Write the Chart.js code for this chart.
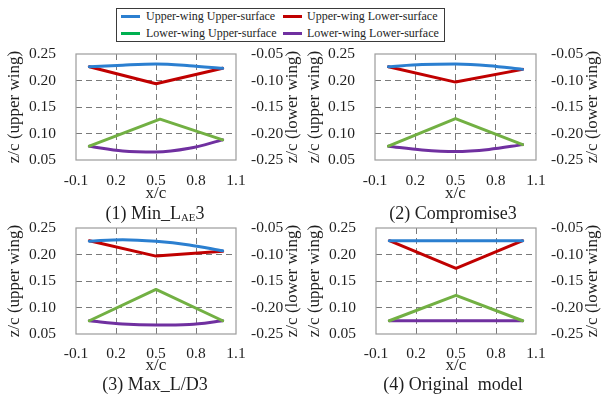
<!DOCTYPE html>
<html>
<head>
<meta charset="utf-8">
<script src="https://cdn.jsdelivr.net/npm/chart.js@4.4.0/dist/chart.umd.min.js"></script>
<style>
  html, body { margin:0; padding:0; background:#fff; }
  #wrap { position:relative; width:603px; height:396px; overflow:hidden; font-family:'Liberation Serif','Times New Roman',serif; color:#1e1e1e; }
  canvas { position:absolute; }
  .legend-box { position:absolute; left:116px; top:8px; width:327px; height:32px; border:1.5px solid #3a3a3a; }
  .lg-line { position:absolute; height:3px; }
  .lg-text { position:absolute; font-size:12px; line-height:14px; white-space:nowrap; }
  .sub { position:absolute; font-size:18px; line-height:20px; white-space:pre; transform:translateX(-50%); }
  .sub sub { font-size:0.6em; vertical-align:-0.15em; }
</style>
</head>
<body>
<div id="wrap">
  <div class="legend-box"></div>
  <div id="legend"></div>
  <canvas id="c1" width="302" height="162"></canvas>
  <canvas id="c2" width="303" height="162"></canvas>
  <canvas id="c3" width="302" height="158"></canvas>
  <canvas id="c4" width="303" height="158"></canvas>
  <div id="titles"></div>
</div>
<script>
const seriesNames  = ['Upper-wing Upper-surface', 'Upper-wing Lower-surface', 'Lower-wing Upper-surface', 'Lower-wing Lower-surface'];
const lineColors   = ['#2b7fd0', '#c00000', '#72b043', '#7030a0'];
const legendColors = ['#2b7fd0', '#c00000', '#00b050', '#7030a0'];
const panelTitles  = ['(1) Min_L<sub>AE</sub>3', '(2) Compromise3', '(3) Max_L/D3', '(4) Original  model'];

const xTicks      = [-0.1, 0.2, 0.5, 0.8, 1.1];
const yUpperTicks = [0.05, 0.10, 0.15, 0.20, 0.25];
const yLowerTicks = [-0.25, -0.20, -0.15, -0.10, -0.05];

// x stations along the chord
const xCurve = [0, 0.25, 0.5, 0.75, 1];
const xKink  = [0, 0.5, 1];
const xKinkR = [0, 0.53, 1];
const xFlat  = [0, 1];

// (1) Min_LAE3  (lower-wing values read on the right axis)
const minUU = [0.226, 0.229, 0.231, 0.228, 0.223];
const minUL = [0.226, 0.194, 0.223];
const minLU = [-0.224, -0.173, -0.212];
const minLL = [-0.224, -0.233, -0.235, -0.228, -0.212];
// (2) Compromise3
const cmpUU = [0.226, 0.230, 0.231, 0.228, 0.221];
const cmpUL = [0.226, 0.197, 0.221];
const cmpLU = [-0.224, -0.172, -0.221];
const cmpLL = [-0.224, -0.231, -0.234, -0.230, -0.221];
// (3) Max_L/D3
const maxUU = [0.225, 0.228, 0.225, 0.218, 0.207];
const maxUL = [0.226, 0.197, 0.206];
const maxLU = [-0.225, -0.166, -0.225];
const maxLL = [-0.225, -0.231, -0.233, -0.232, -0.225];
// (4) Original model
const orgUU = [0.226, 0.226];
const orgUL = [0.226, 0.174, 0.226];
const orgLU = [-0.225, -0.177, -0.225];
const orgLL = [-0.225, -0.225];

Chart.defaults.font.family = "'Liberation Serif', 'Times New Roman', serif";
Chart.defaults.color = '#1e1e1e';

const TXT = '#1e1e1e';
const GRID = '#7a7a7a';
const tickFont  = { size: 15.5 };
const titleFont = { size: 17 };

/* ---- layout of the four panels (page px) ---- */
const panels = [
  { id:'c1', left:0,   top:44,  w:302, h:162, plotL:76, plotR:236, axisH:44, padB:2, tickPad:12, tx:155, ty:203,
    series:[[xCurve, minUU], [xKink, minUL], [xKinkR, minLU], [xCurve, minLL]] },
  { id:'c2', left:300, top:44,  w:303, h:162, plotL:75, plotR:236, axisH:44, padB:2, tickPad:12, tx:453, ty:203,
    series:[[xCurve, cmpUU], [xKink, cmpUL], [xKink, cmpLU], [xCurve, cmpLL]] },
  { id:'c3', left:0,   top:218, w:302, h:158, plotL:76, plotR:236, axisH:42, padB:0, tickPad:11, tx:155, ty:374,
    series:[[xCurve, maxUU], [xKink, maxUL], [xKink, maxLU], [xCurve, maxLL]] },
  { id:'c4', left:300, top:218, w:303, h:158, plotL:76, plotR:236, axisH:42, padB:0, tickPad:11, tx:453, ty:374,
    series:[[xFlat, orgUU], [xKink, orgUL], [xKink, orgLU], [xFlat, orgLL]] },
];

/* ---- frame + right-hand axis title (reads bottom to top like the left one) ---- */
const framePlugin = {
  id: 'frame',
  beforeDatasetsDraw(chart) {
    const a = chart.chartArea, ctx = chart.ctx;
    ctx.save();
    ctx.strokeStyle = '#9c9c9c';
    ctx.lineWidth = 1.2;
    ctx.strokeRect(a.left, a.top, a.right - a.left, a.bottom - a.top);
    ctx.restore();
  },
  afterDraw(chart, args, opts) {
    const a = chart.chartArea, ctx = chart.ctx;
    ctx.save();
    ctx.translate(a.right + opts.offset, (a.top + a.bottom) / 2);
    ctx.rotate(-Math.PI / 2);
    ctx.font = `${titleFont.size}px ${Chart.defaults.font.family}`;
    ctx.fillStyle = TXT;
    ctx.textAlign = 'center';
    ctx.textBaseline = 'middle';
    ctx.fillText(opts.text, 0, 0);
    ctx.restore();
  }
};

const pts = (xs, ys) => xs.map((x, i) => ({ x, y: ys[i] }));
const edgeless = n => c => (c.index === 0 || c.index === n - 1) ? 'rgba(0,0,0,0)' : GRID;
const setTicks = arr => s => { s.ticks = arr.map(v => ({ value: v })); };
// fixed axis width; drop the tick-padding that chart.js adds above/below vertical axes
const fixWidth = w => s => { s.width = w; s.paddingTop = 0; s.paddingBottom = 0; };

function makePanel(p) {
  const cv = document.getElementById(p.id);
  cv.style.left = p.left + 'px';
  cv.style.top = p.top + 'px';

  const datasets = p.series.map(([xs, ys], k) => {
    const curved = xs.length > 3;
    return {
      label: seriesNames[k],
      data: pts(xs, ys),
      yAxisID: k < 2 ? 'y' : 'y2',
      borderColor: lineColors[k],
      backgroundColor: lineColors[k],
      borderWidth: 3,
      pointRadius: 0,
      tension: curved ? 0.4 : 0,
      cubicInterpolationMode: curved ? 'monotone' : 'default',
      borderCapStyle: 'round',
      borderJoinStyle: 'round',
      fill: false,
    };
  });

  return new Chart(cv.getContext('2d'), {
    type: 'line',
    data: { datasets },
    plugins: [framePlugin],
    options: {
      responsive: false,
      animation: false,
      devicePixelRatio: 1,
      layout: { padding: { top: 10, right: 0, bottom: p.padB, left: 0 } },
      scales: {
        x: {
          type: 'linear', min: -0.1, max: 1.1,
          afterBuildTicks: setTicks(xTicks),
          afterFit: s => { s.height = p.axisH; },
          ticks: { callback: v => v.toFixed(1), padding: p.tickPad, font: tickFont, color: TXT, maxRotation: 0, autoSkip: false },
          grid: { color: edgeless(xTicks.length), drawTicks: false, lineWidth: 1 },
          border: { display: false, dash: [6, 4] },
          title: { display: true, text: 'x/c', font: titleFont, color: TXT, padding: { top: 0, bottom: 0 } },
        },
        y: {
          type: 'linear', position: 'left', min: 0.05, max: 0.25,
          afterBuildTicks: setTicks(yUpperTicks),
          afterFit: fixWidth(p.plotL),
          ticks: { callback: v => v.toFixed(2), padding: 20, font: tickFont, color: TXT, autoSkip: false },
          grid: { color: edgeless(yUpperTicks.length), drawTicks: false, lineWidth: 1 },
          border: { display: false, dash: [6, 4] },
          title: { display: true, text: 'z/c (upper wing)', font: titleFont, color: TXT, padding: { top: 4, bottom: 0 } },
        },
        y2: {
          type: 'linear', position: 'right', min: -0.25, max: -0.05,
          afterBuildTicks: setTicks(yLowerTicks),
          afterFit: fixWidth(p.w - p.plotR),
          ticks: { callback: v => v.toFixed(2), padding: 15, font: tickFont, color: TXT, autoSkip: false },
          grid: { display: false, drawTicks: false },
          border: { display: false },
        },
      },
      plugins: {
        legend: { display: false },
        tooltip: { enabled: false },
        frame: { text: 'z/c (lower wing)', offset: 57 },
      },
    },
  });
}

/* ---- legend (2 x 2) ---- */
function renderLegend() {
  const cols = [{ line: 121, text: 146 }, { line: 283, text: 307 }];
  const rows = [16.5, 33];
  const root = document.getElementById('legend');
  root.innerHTML = seriesNames.map((name, k) => {
    const c = cols[k % 2], y = rows[Math.floor(k / 2)];
    return `<div class="lg-line" style="left:${c.line}px;top:${y - 1.5}px;width:19px;background:${legendColors[k]}"></div>
            <div class="lg-text" style="left:${c.text}px;top:${y - 7.5}px">${name}</div>`;
  }).join('');
}

function renderTitles() {
  document.getElementById('titles').innerHTML = panels.map((p, i) =>
    `<div class="sub" style="left:${p.tx}px;top:${p.ty}px">${panelTitles[i]}</div>`).join('');
}

renderLegend();
renderTitles();
panels.forEach(makePanel);
</script>
</body>
</html>
